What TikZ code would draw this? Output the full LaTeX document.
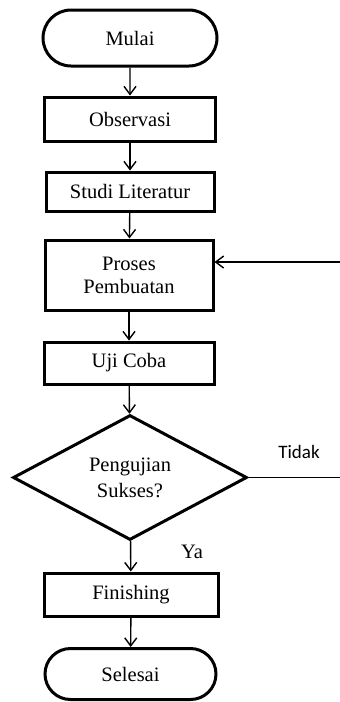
\documentclass[tikz,border=0pt]{standalone}
\usepackage{fontspec}
\setmainfont{Liberation Serif}
\newfontfamily\labelfont{Carlito}
\usetikzlibrary{shapes.geometric,shapes.misc,arrows.meta}
\begin{document}
\begin{tikzpicture}[x=1pt,y=-1pt,
  box/.style={draw,line width=3pt,rectangle,inner sep=0pt,font=\fontsize{20.5}{23}\selectfont,align=center},
  term/.style={draw,line width=3pt,rounded rectangle,inner sep=0pt,font=\fontsize{20.5}{23}\selectfont},
  decide/.style={draw,line width=3pt,diamond,inner sep=0pt,minimum width=234pt,minimum height=125pt,font=\fontsize{20.5}{26}\selectfont,align=center},
  flow/.style={line width=1.4pt,-{Straight Barb[length=8pt,width=12pt,line width=1.4pt]}},
  plain/.style={line width=1.4pt},
  lbl/.style={inner sep=0pt}]
\useasboundingbox (0,0) rectangle (340,702);
\node[term,minimum width=174pt,minimum height=56pt] (mulai) at (130,38) {Mulai};
\node[box,minimum width=171pt,minimum height=44pt] (obs) at (130,119) {Observasi};
\node[box,minimum width=168pt,minimum height=39pt] (studi) at (130,191.5) {Studi Literatur};
\node[box,minimum width=168pt,minimum height=70pt] (proses) at (129,275) {Proses\\Pembuatan};
\node[box,minimum width=170pt,minimum height=42pt] (uji) at (129,363) {Uji Coba};
\node[decide] (dia) at (130,477.5) {Pengujian\\Sukses?};
\node[box,minimum width=174pt,minimum height=43pt] (fin) at (131,594.5) {Finishing};
\node[term,minimum width=171pt,minimum height=51pt] (sel) at (130.5,674) {Selesai};
\coordinate (edge) at (341,262);
\node[lbl,font=\fontsize{20.5}{23}\selectfont] (ya) at (192,552) {Ya};
\node[lbl,font=\labelfont\fontsize{19}{22}\selectfont] (tidak) at (299,452) {Tidak};
\draw[flow] (mulai) -- (obs);
\draw[flow] (obs) -- (studi);
\draw[flow] (studi) -- (proses);
\draw[flow] (proses) -- (uji);
\draw[flow] (uji) -- (dia);
\draw[flow] (dia) -- (fin);
\draw[flow] (fin) -- (sel);
\draw[plain] (dia.east) -- (dia.east -| edge);
\draw[flow] (edge) -- (edge -| proses.east);
\end{tikzpicture}
\end{document}
